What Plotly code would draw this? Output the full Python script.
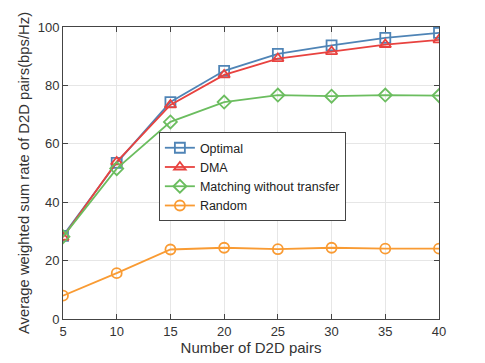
import plotly.graph_objects as go

pairs = [5, 10, 15, 20, 25, 30, 35, 40]
optimal = [28.5, 53.5, 74.3, 85.0, 90.8, 93.7, 96.3, 98.0]
dma = [28.0, 53.8, 73.3, 83.6, 89.2, 91.6, 94.0, 95.6]
matching = [28.2, 51.5, 67.5, 74.3, 76.7, 76.3, 76.7, 76.5]
random_ = [8.0, 15.7, 23.8, 24.4, 23.9, 24.4, 24.1, 24.1]

series = [
    ("Optimal", optimal, "#4f84b6", "square-open"),
    ("DMA", dma, "#e8423f", "triangle-up-open"),
    ("Matching without transfer", matching, "#6bbd5f", "diamond-open"),
    ("Random", random_, "#f99b33", "circle-open"),
]

fig = go.Figure()
for name, vals, color, sym in series:
    fig.add_scatter(
        x=pairs, y=vals, name=name, mode="lines+markers",
        line=dict(color=color, width=1.8),
        marker=dict(symbol=sym, size=10, color=color,
                    line=dict(color=color, width=1.8)),
    )

axis_common = dict(
    showline=True, linecolor="#444", linewidth=1, mirror="ticks",
    ticks="inside", ticklen=5, tickcolor="#444",
    showgrid=True, gridcolor="#e6e6e6", gridwidth=1,
    zeroline=False, tickfont=dict(size=13, color="#333"),
    automargin=False,
)

# page body has an 8px margin, so the figure is a bit smaller than the window
fig.update_layout(
    width=477, height=355,
    margin=dict(l=55, r=46, t=19, b=44),
    paper_bgcolor="white", plot_bgcolor="white",
    font=dict(family="Liberation Sans, Arial, sans-serif", color="#333"),
    showlegend=True,
    legend=dict(
        x=0.255, y=0.64, xanchor="left", yanchor="top",
        bgcolor="white", bordercolor="#444", borderwidth=1,
        font=dict(size=12.5, color="#222"), tracegroupgap=0,
        itemwidth=30,
    ),
)
fig.update_xaxes(
    range=[5, 40], tickvals=pairs,
    title=dict(text="Number of D2D pairs", font=dict(size=15, color="#333"), standoff=2),
    **axis_common,
)
fig.update_yaxes(
    range=[0, 100], tickvals=[0, 20, 40, 60, 80, 100],
    title=dict(text="Average weighted sum rate of D2D pairs(bps/Hz)",
               font=dict(size=14.8, color="#333"), standoff=4),
    **axis_common,
)

fig.write_html("out.html")
